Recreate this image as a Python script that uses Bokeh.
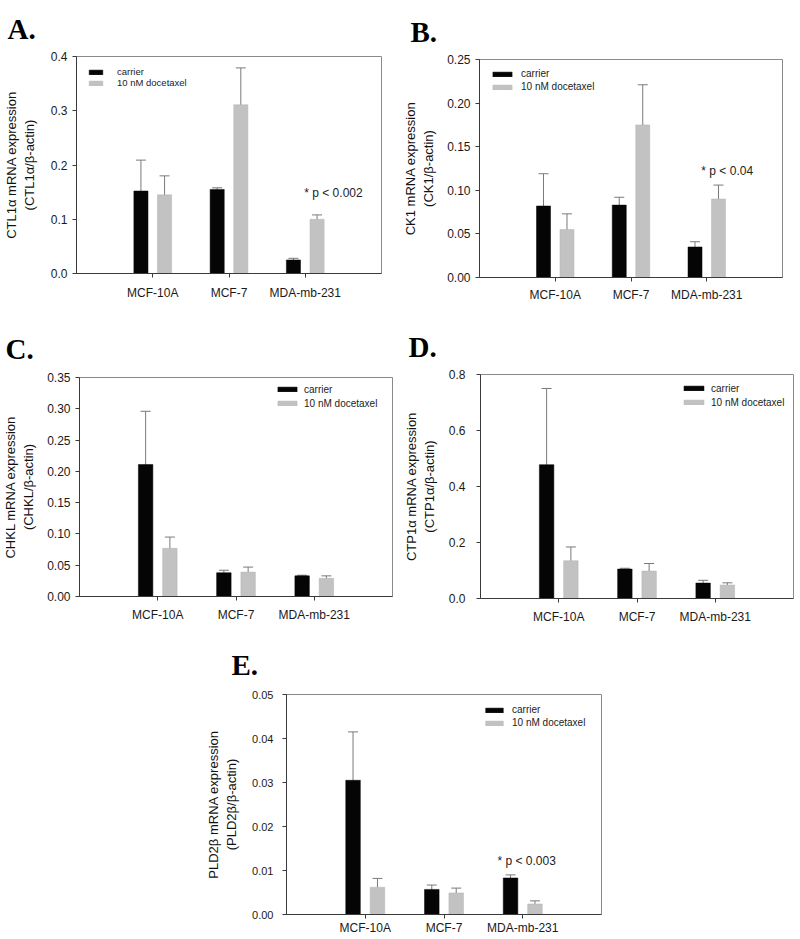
from bokeh.plotting import figure
from bokeh.models import (ColumnDataSource, Range1d, FixedTicker, NumeralTickFormatter,
                          Whisker, TeeHead, Legend, LegendItem, Label, Spacer)
from bokeh.layouts import column, row
from bokeh.transform import dodge
from bokeh.embed import file_html
from bokeh.resources import INLINE

# ---------------- data ----------------
cells = ["MCF-10A", "MCF-7", "MDA-mb-231"]
cell_pos = [1, 2, 3]
series_names = ["carrier", "10 nM docetaxel"]

ctl1_carrier = [0.152, 0.155, 0.025]
ctl1_carrier_err = [0.057, 0.003, 0.003]
ctl1_docetaxel = [0.145, 0.311, 0.100]
ctl1_docetaxel_err = [0.035, 0.068, 0.008]

ck1_carrier = [0.082, 0.083, 0.035]
ck1_carrier_err = [0.037, 0.009, 0.006]
ck1_docetaxel = [0.055, 0.175, 0.090]
ck1_docetaxel_err = [0.018, 0.046, 0.016]

chkl_carrier = [0.211, 0.038, 0.033]
chkl_carrier_err = [0.085, 0.004, 0.001]
chkl_docetaxel = [0.077, 0.039, 0.029]
chkl_docetaxel_err = [0.018, 0.008, 0.004]

ctp1_carrier = [0.478, 0.105, 0.055]
ctp1_carrier_err = [0.272, 0.003, 0.010]
ctp1_docetaxel = [0.135, 0.098, 0.048]
ctp1_docetaxel_err = [0.049, 0.027, 0.008]

pld2_carrier = [0.0305, 0.0057, 0.0083]
pld2_carrier_err = [0.0110, 0.0010, 0.0007]
pld2_docetaxel = [0.0062, 0.0049, 0.0024]
pld2_docetaxel_err = [0.0020, 0.0011, 0.0007]

ticks_a = [0.0, 0.1, 0.2, 0.3, 0.4]
ticks_b = [0.0, 0.05, 0.10, 0.15, 0.20, 0.25]
ticks_c = [0.0, 0.05, 0.10, 0.15, 0.20, 0.25, 0.30, 0.35]
ticks_d = [0.0, 0.2, 0.4, 0.6, 0.8]
ticks_e = [0.0, 0.01, 0.02, 0.03, 0.04, 0.05]

note_a = "* p < 0.002"
note_b = "* p < 0.04"
note_e = "* p < 0.003"

FONT = "Liberation Sans"
SERIF = "Liberation Serif"
BLACK = "#050505"
GREY = "#c2c2c2"
ERR = "#7a7a7a"
BAR_W = 0.185
OFF = 0.155


def panel(letter, ylabel, vals_c, err_c, vals_d, err_d, yticks, fmt,
          W, H, bl, br, bt, bb, letter_off, legend_cfg, ylab_std, ytick_std,
          xlab_std, tick_fs="12px", note=None):
    ymax = yticks[-1]
    p = figure(width=W, height=H, x_range=Range1d(0, 4), y_range=Range1d(0, ymax),
               output_backend="svg", toolbar_location=None,
               min_border_left=bl, min_border_right=br,
               min_border_top=bt, min_border_bottom=bb)
    p.background_fill_color = "white"
    p.border_fill_color = "white"
    p.outline_line_color = "#8a8a8a"
    p.outline_line_width = 1
    p.xgrid.visible = False
    p.ygrid.visible = False

    # panel letter as the plot title
    p.title.text = letter
    p.title.align = "left"
    p.title.offset = letter_off[0]
    p.title.standoff = letter_off[1]
    p.title.text_font = SERIF
    p.title.text_font_size = "29px"
    p.title.text_font_style = "bold"
    p.title.text_color = "#000000"
    p.title.vertical_align = "top"

    src = ColumnDataSource(dict(
        x=cell_pos,
        c=vals_c, c_lo=[v - e for v, e in zip(vals_c, err_c)],
        c_hi=[v + e for v, e in zip(vals_c, err_c)],
        d=vals_d, d_lo=[v - e for v, e in zip(vals_d, err_d)],
        d_hi=[v + e for v, e in zip(vals_d, err_d)],
    ))
    r1 = p.vbar(x=dodge("x", -OFF), top="c", width=BAR_W, source=src,
                fill_color=BLACK, line_color=BLACK, line_width=0.5)
    r2 = p.vbar(x=dodge("x", OFF), top="d", width=BAR_W, source=src,
                fill_color=GREY, line_color="#b4b4b4", line_width=0.5)
    for key, off in (("c", -OFF), ("d", OFF)):
        w = Whisker(base=dodge("x", off), upper=key + "_hi", lower=key + "_lo",
                    source=src, line_color=ERR, line_width=1,
                    upper_head=TeeHead(size=10, line_color=ERR, line_width=1),
                    lower_head=TeeHead(size=10, line_color=ERR, line_width=1))
        p.add_layout(w)

    # axes
    p.xaxis.ticker = FixedTicker(ticks=cell_pos)
    p.xaxis.major_label_overrides = {pos: name for pos, name in zip(cell_pos, cells)}
    p.yaxis.ticker = FixedTicker(ticks=yticks)
    p.yaxis.formatter = NumeralTickFormatter(format=fmt)
    for ax in (p.xaxis, p.yaxis):
        ax.axis_line_color = "#3a3a3a"
        ax.major_tick_line_color = "#3a3a3a"
        ax.minor_tick_line_color = None
        ax.major_tick_in = 0
        ax.major_tick_out = 4
        ax.major_label_text_font = FONT
        ax.major_label_text_color = "#1a1a1a"
    p.xaxis.major_label_text_font_size = "12px"
    p.yaxis.major_label_text_font_size = tick_fs
    p.xaxis.major_label_standoff = xlab_std
    p.yaxis.major_label_standoff = ytick_std
    p.yaxis.axis_label = ylabel
    p.yaxis.axis_label_text_font = FONT
    p.yaxis.axis_label_text_font_size = "13px"
    p.yaxis.axis_label_text_font_style = "normal"
    p.yaxis.axis_label_text_color = "#111111"
    p.yaxis.axis_label_standoff = ylab_std

    # legend
    lx, ltop, rowh, gw, std, fs = legend_cfg
    frame_h = H - bt - bb
    leg = Legend(items=[LegendItem(label=series_names[0], renderers=[r1]),
                        LegendItem(label=series_names[1], renderers=[r2])],
                 location=(int(lx), int(frame_h - ltop - 2 * rowh)))
    leg.glyph_width = gw
    leg.glyph_height = 6
    leg.label_height = int(rowh)
    leg.label_standoff = std
    leg.label_text_font = FONT
    leg.label_text_font_size = fs
    leg.label_text_color = "#222222"
    leg.spacing = 0
    leg.padding = 0
    leg.margin = 0
    leg.border_line_alpha = 0
    leg.background_fill_alpha = 0
    p.add_layout(leg)

    if note is not None:
        txt, nx, ny = note
        p.add_layout(Label(x=nx, y=ny, text=txt, text_font=FONT, text_font_size="12px",
                           text_color="#222222", text_align="center",
                           text_baseline="middle"))
    return p


pa = panel("A.", "CTL1\u03b1 mRNA expression\n(CTL1\u03b1/\u03b2-actin)",
           ctl1_carrier, ctl1_carrier_err, ctl1_docetaxel, ctl1_docetaxel_err,
           ticks_a, "0.0", 400, 304, 71, 19, 56, 31, (-69, 20),
           (11, 10, 11, 17, 13, "9.5px"), 11, 5, 8, note=(note_a, 3.37, 0.1475))
pb = panel("B.", "CK1 mRNA expression\n(CK1/\u03b2-actin)",
           ck1_carrier, ck1_carrier_err, ck1_docetaxel, ck1_docetaxel_err,
           ticks_b, "0.00", 400, 304, 68, 18, 59, 25, (-69, 20),
           (11, 10, 13, 24, 7, "10px"), 8, 5, 6, note=(note_b, 3.27, 0.1227))
pc = panel("C.", "CHKL mRNA expression\n(CHKL/\u03b2-actin)",
           chkl_carrier, chkl_carrier_err, chkl_docetaxel, chkl_docetaxel_err,
           ticks_c, "0.00", 400, 326, 78, 8, 73, 34, (-74, 21),
           (196, 5, 14, 24, 5, "10px"), 8, 5, 7)
pd_ = panel("D.", "CTP1\u03b1 mRNA expression\n(CTP1\u03b1/\u03b2-actin)",
            ctp1_carrier, ctp1_carrier_err, ctp1_docetaxel, ctp1_docetaxel_err,
            ticks_d, "0.0", 400, 326, 73, 7, 70, 32, (-72, 20),
            (201, 7, 14, 25, 5, "10px"), 9, 11, 7)
pe = panel("E.", "PLD2\u03b2 mRNA expression\n(PLD2\u03b2/\u03b2-actin)",
           pld2_carrier, pld2_carrier_err, pld2_docetaxel, pld2_docetaxel_err,
           ticks_e, "0.00", 410, 309, 86, 9, 64, 25, (-55, 23),
           (197, 9, 13, 22, 7, "10px"), 10, 9, 2, tick_fs="11px",
           note=(note_e, 3.05, 0.0122))

layout = column(
    row(column(pa), column(pb)),
    row(column(pc), column(pd_)),
    row(Spacer(width=200, height=309), column(pe)),
)

open("out.html", "w").write(file_html(layout, INLINE))
